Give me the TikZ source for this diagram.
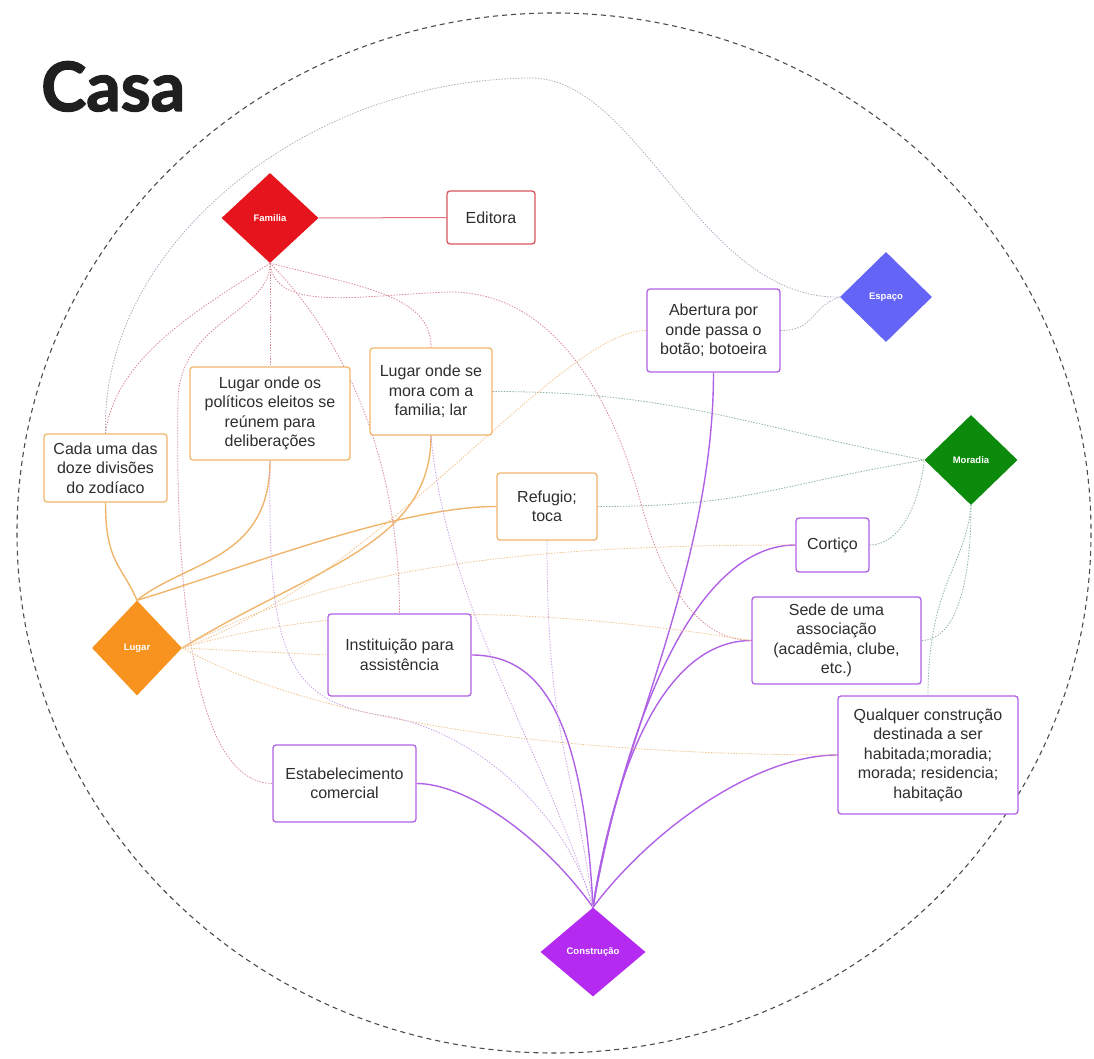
\documentclass[tikz,border=0pt]{standalone}
\usepackage{fontspec}
\setmainfont{Liberation Sans}
\newfontfamily\titlefont{Lato}[BoldFeatures={FakeBold=2}]
\usetikzlibrary{shapes,backgrounds}

\definecolor{txt}{HTML}{2E2E2E}
\definecolor{famred}{HTML}{E6141C}
\definecolor{espblue}{HTML}{6464F6}
\definecolor{morgreen}{HTML}{0C8A0C}
\definecolor{lugorange}{HTML}{F7931E}
\definecolor{conpurple}{HTML}{B42AF0}
\definecolor{editline}{HTML}{D9545C}
\definecolor{lugline}{HTML}{F0B56C}
\definecolor{conline}{HTML}{B062E6}
\definecolor{famdot}{HTML}{D98A95}
\definecolor{lugdot}{HTML}{F2C28C}
\definecolor{mordot}{HTML}{8DB29A}
\definecolor{condot}{HTML}{C7A0E6}
\definecolor{espdot}{HTML}{B2A8BE}

\begin{document}
\begin{tikzpicture}[x=1pt, y=-1pt,
  concept/.style={diamond, minimum width=96pt, minimum height=90pt, inner sep=0pt,
    text=white, font=\bfseries\fontsize{9.5}{10}\selectfont},
  sense/.style={draw, fill=white, rounded corners=3pt, line width=1.3pt, align=center,
    inner sep=0pt, text=txt, font=\fontsize{16}{19.5}\selectfont},
  lugbox/.style={sense, draw=lugline},
  conbox/.style={sense, draw=conline},
  link/.style={line width=1.4pt},
  dotlink/.style={line width=0.8pt, dash pattern=on 1.4pt off 1.4pt}]
\useasboundingbox (0,0) rectangle (1094,1059);

\node[font=\titlefont\bfseries\fontsize{68}{68}\selectfont, text=black!88, anchor=base west, inner sep=0pt] (title) at (41,111) {Casa};

% the five meanings
\node[concept, fill=famred, minimum width=97pt] (fam) at (270,218) {Familia};
\node[concept, fill=espblue, minimum width=92pt] (esp) at (886,297) {Espaço};
\node[concept, fill=morgreen, minimum width=93pt] (mor) at (971,460) {Moradia};
\node[concept, fill=lugorange, minimum width=90pt, minimum height=95pt] (lug) at (137,648) {Lugar};
\node[concept, fill=conpurple, minimum width=105pt, minimum height=89pt] (con) at (593,952) {Construção};

% the senses
\node[sense, draw=editline, minimum width=88pt, minimum height=53pt] (edit) at (491,217.5) {Editora};
\node[lugbox, minimum width=123pt, minimum height=68pt] (cada) at (105.5,468) {Cada uma das\\doze divisões\\do zodíaco};
\node[lugbox, minimum width=160pt, minimum height=93pt] (pol) at (270,413.5) {Lugar onde os\\políticos eleitos se\\reúnem para\\deliberações};
\node[lugbox, minimum width=122pt, minimum height=87pt] (mora) at (431,391.5) {Lugar onde se\\mora com a\\familia; lar};
\node[lugbox, minimum width=100pt, minimum height=67pt] (ref) at (547,506.5) {Refugio;\\toca};
\node[conbox, minimum width=133pt, minimum height=83pt] (abe) at (713.5,330.5) {Abertura por\\onde passa o\\botão; botoeira};
\node[conbox, minimum width=73pt, minimum height=54pt] (cor) at (832.5,545) {Cortiço};
\node[conbox, minimum width=169pt, minimum height=87pt] (sede) at (836.5,640.5) {Sede de uma\\associação\\(acadêmia, clube,\\etc.)};
\node[conbox, minimum width=143pt, minimum height=82pt] (inst) at (399.5,655) {Instituição para\\assistência};
\node[conbox, minimum width=143pt, minimum height=77pt] (est) at (344.5,783.5) {Estabelecimento\\comercial};
\node[conbox, minimum width=180pt, minimum height=118pt] (qual) at (928,755) {Qualquer construção\\destinada a ser\\habitada;moradia;\\morada; residencia;\\habitação};

\begin{pgfonlayer}{background}
\draw[black!70, line width=1.1pt, dash pattern=on 5pt off 4pt] (554,533) ellipse [x radius=537, y radius=520];

% solid links
\draw[link, line width=1pt, color=editline!80] (fam.east) -- (edit.west);
\draw[link, lugline] (cada.south) .. controls +(0,60) and +(-15,-35) .. (lug.north);
\draw[link, lugline] (pol.south) .. controls +(0,100) and +(50,-40) .. (lug.north);
\draw[link, lugline] (ref.west) .. controls +(-100,0) and +(100,-30) .. (lug.north);
\draw[link, lugline] (mora.south) .. controls +(0,110) and +(130,-80) .. (lug.east);
\draw[link, conline] (abe.south) .. controls +(0,200) and +(20,-150) .. (con.north);
\draw[link, conline] (cor.west) .. controls +(-90,0) and +(40,-220) .. (con.north);
\draw[link, conline] (sede.west) .. controls +(-80,0) and +(25,-160) .. (con.north);
\draw[link, conline] (inst.east) .. controls +(70,0) and +(-10,-190) .. (con.north);
\draw[link, conline] (est.east) .. controls +(50,0) and +(-50,-70) .. (con.north);
\draw[link, conline] (qual.west) .. controls +(-80,0) and +(60,-80) .. (con.north);

% dotted links, Familia
\draw[dotlink, famdot] (fam.south) .. controls +(-60,40) and +(10,-80) .. (cada.north);
\draw[dotlink, famdot] (fam.south) -- (pol.north);
\draw[dotlink, famdot] (fam.south) .. controls +(100,25) and +(0,-50) .. (mora.north);
\draw[dotlink, famdot] (fam.south) .. controls +(40,40) and +(0,-200) .. (inst.north);
\draw[dotlink, famdot] (fam.south) .. controls +(5,50) and (360,295) .. (450,292)
  .. controls (560,292) and (615,410) .. (640,500) .. controls (665,590) and (700,640) .. (sede.west);
\draw[dotlink, famdot] (fam.south) .. controls +(0,50) and (180,320) .. (178,400)
  .. controls (176,520) and (180,783) .. (est.west);
% dotted links, Espaco
\draw[dotlink, espdot] (cada.north) .. controls (100,250) and (300,80) .. (530,78)
  .. controls (640,77) and (700,300) .. (esp.west);
\draw[dotlink, espdot] (abe.east) .. controls +(35,0) and +(-30,10) .. (esp.west);
% dotted links, Moradia
\draw[dotlink, mordot] (mora.east) .. controls +(180,0) and +(-180,-35) .. (mor.west);
\draw[dotlink, mordot] (ref.east) .. controls +(150,0) and +(-150,25) .. (mor.west);
\draw[dotlink, mordot] (cor.east) .. controls +(30,0) and +(-5,45) .. (mor.west);
\draw[dotlink, mordot] (mor.south) .. controls +(0,90) and +(30,0) .. (sede.east);
\draw[dotlink, mordot] (mor.south) .. controls +(-5,60) and +(0,-110) .. (qual.north);
% dotted links, Lugar
\draw[dotlink, lugdot] (lug.east) -- (inst.west);
\draw[dotlink, lugdot] (lug.east) .. controls (380,580) and (560,330) .. (abe.west);
\draw[dotlink, lugdot] (lug.east) .. controls (340,560) and (560,545) .. (cor.west);
\draw[dotlink, lugdot] (lug.east) .. controls (380,590) and (620,620) .. (sede.west);
\draw[dotlink, lugdot] (lug.east) .. controls (330,730) and (600,755) .. (qual.west);
% dotted links, Construcao
\draw[dotlink, condot] (ref.south) .. controls +(0,200) and +(-20,-150) .. (con.north);
\draw[dotlink, condot] (mora.south) .. controls +(15,170) and +(-50,-160) .. (con.north);
\draw[dotlink, condot] (pol.south) .. controls (268,640) and (280,700) .. (380,715)
  .. controls (480,730) and (570,820) .. (con.north);
\end{pgfonlayer}
\end{tikzpicture}
\end{document}
